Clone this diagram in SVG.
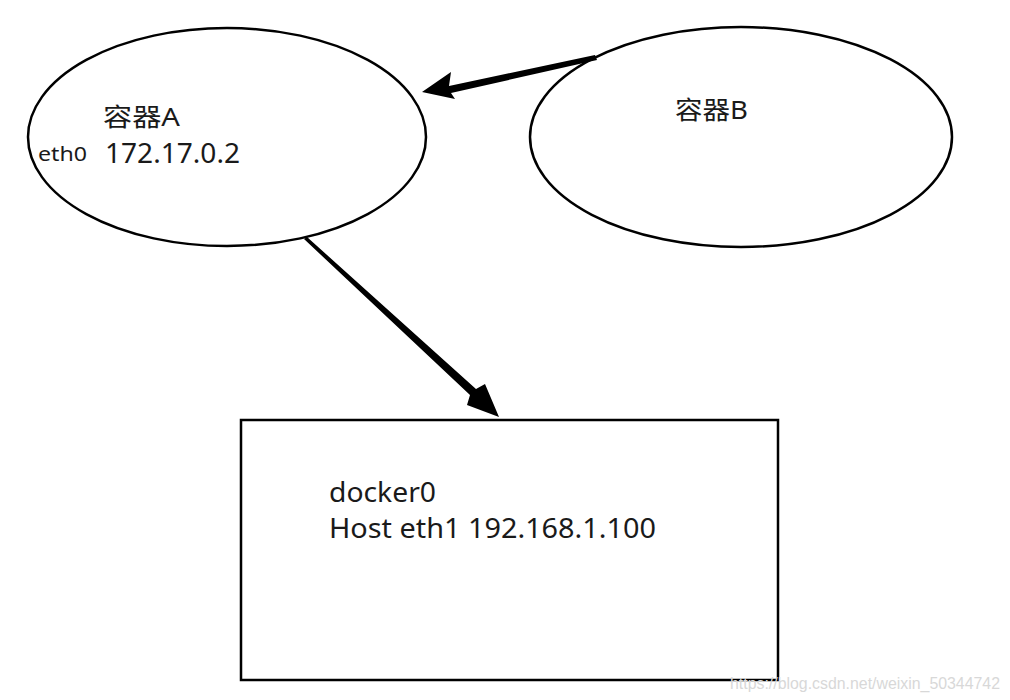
<svg xmlns="http://www.w3.org/2000/svg" width="1010" height="700" viewBox="0 0 1010 700">
<style>
.shape{fill:#fff;stroke:#000;stroke-width:2.5}
.t{font-family:"Noto Sans","Noto Sans CJK SC",sans-serif;fill:#1a1a1a}
.wm{font-family:"Liberation Sans",sans-serif;fill:#d8d8d8;font-size:16px}
</style>
<rect width="1010" height="700" fill="#fff"/>
<g id="containerA">
<ellipse class="shape" cx="227" cy="137" rx="199" ry="109"/>
<text class="t" x="103" y="126" font-size="25" textLength="77" lengthAdjust="spacingAndGlyphs">容器A</text>
<text class="t" x="38" y="161" font-size="20" textLength="49" lengthAdjust="spacingAndGlyphs">eth0</text>
<text class="t" x="105" y="163" font-size="28" textLength="135" lengthAdjust="spacingAndGlyphs">172.17.0.2</text>
</g>
<g id="containerB">
<ellipse class="shape" cx="741" cy="137" rx="211" ry="110"/>
<text class="t" x="675" y="119" font-size="25" textLength="73" lengthAdjust="spacingAndGlyphs">容器B</text>
</g>
<g id="docker0">
<rect class="shape" x="241" y="420" width="537" height="260" stroke-width="3"/>
<text class="t" x="329" y="502" font-size="28" textLength="107" lengthAdjust="spacingAndGlyphs">docker0</text>
<text class="t" x="329" y="538" font-size="28" textLength="327" lengthAdjust="spacingAndGlyphs">Host eth1 192.168.1.100</text>
</g>
<g id="connectors" fill="#000" stroke="none">
<polygon points="595,55 597,60 451,93 455,99 422,92 451,72 449,86"/>
<polygon points="304,239 307,237 476,389 485,384 499,417 467,405 470,395"/>
</g>
<text class="wm" x="730" y="689" textLength="270" lengthAdjust="spacingAndGlyphs">https://blog.csdn.net/weixin_50344742</text>
</svg>
